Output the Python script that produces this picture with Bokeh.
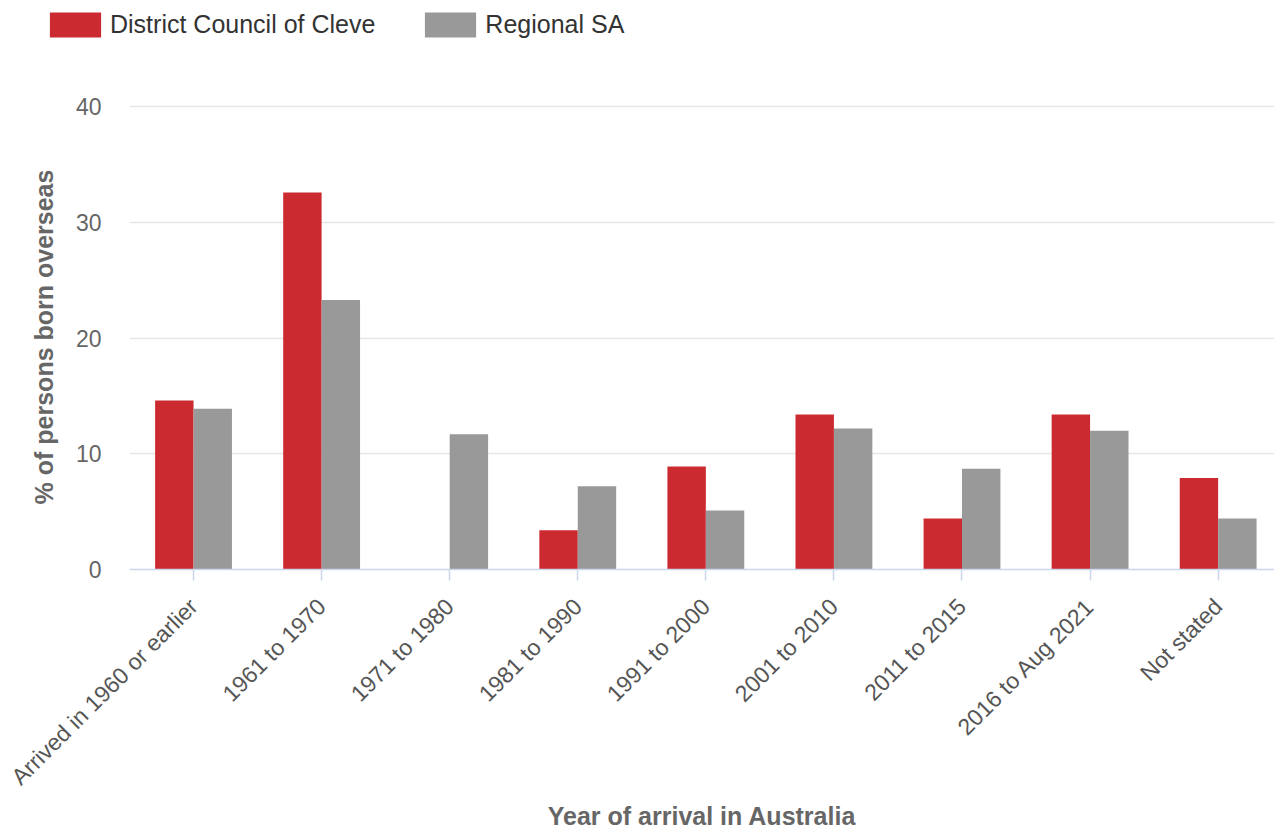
from math import pi
from bokeh.plotting import figure
from bokeh.layouts import column
from bokeh.models import Range1d, FixedTicker, Legend, LegendItem, ColumnDataSource
from bokeh.transform import dodge
from bokeh.embed import file_html
from bokeh.resources import INLINE

categories = [
    "Arrived in 1960 or earlier",
    "1961 to 1970",
    "1971 to 1980",
    "1981 to 1990",
    "1991 to 2000",
    "2001 to 2010",
    "2011 to 2015",
    "2016 to Aug 2021",
    "Not stated",
]
cleve = [14.6, 32.6, 0.0, 3.4, 8.9, 13.4, 4.4, 13.4, 7.9]
regional = [13.9, 23.3, 11.7, 7.2, 5.1, 12.2, 8.7, 12.0, 4.4]
y_ticks = [0, 10, 20, 30, 40]
series_names = ["District Council of Cleve", "Regional SA"]

RED = "#cb2b30"
GREY = "#999999"
FONT = "Liberation Sans"

idx = list(range(len(categories)))
src = ColumnDataSource(dict(idx=idx, cleve=cleve, regional=regional))

TOP_H = 80  # height of the legend strip

# ---- legend strip (top) ----
lf = figure(
    width=1274, height=TOP_H,
    output_backend="svg", toolbar_location=None,
    x_axis_location=None, y_axis_location=None,
    x_range=Range1d(100, 101), y_range=Range1d(100, 101),
    min_border_left=0, min_border_right=0, min_border_top=0, min_border_bottom=0,
    frame_align=False,
)
lf.grid.visible = False
lf.outline_line_color = None
lf.background_fill_color = "white"
lf.border_fill_color = "white"
# series glyphs used only as legend keys (the strip's ranges keep the bars out of view)
l1 = lf.vbar(x="idx", top="cleve", bottom=0, width=0.3, source=src,
             fill_color=RED, line_color=None)
l2 = lf.vbar(x="idx", top="regional", bottom=0, width=0.3, source=src,
             fill_color=GREY, line_color=None)
legend = Legend(
    items=[LegendItem(label=series_names[0], renderers=[l1], index=0),
           LegendItem(label=series_names[1], renderers=[l2], index=0)],
    location=(43, TOP_H - 40), orientation="horizontal",
    glyph_width=64, glyph_height=31, label_standoff=3, spacing=43,
    padding=0, margin=0, border_line_color=None, background_fill_alpha=0,
    label_text_font=FONT, label_text_font_size="25px", label_text_color="#333333",
)
lf.add_layout(legend)

# ---- main chart ----
p = figure(
    width=1274, height=832 - TOP_H,
    output_backend="svg", toolbar_location=None,
    x_range=Range1d(-0.5, 8.44), y_range=Range1d(0, 40.2),
    min_border_left=129, min_border_right=0,
    min_border_top=104 - TOP_H, min_border_bottom=263,
    frame_align=False,
)
p.outline_line_color = None
p.background_fill_color = "white"
p.border_fill_color = "white"

r1 = p.vbar(x=dodge("idx", -0.15, range=p.x_range), top="cleve", width=0.3,
            bottom=0, source=src, fill_color=RED, line_color=None)
r2 = p.vbar(x=dodge("idx", 0.15, range=p.x_range), top="regional", width=0.3,
            bottom=0, source=src, fill_color=GREY, line_color=None)

# x axis
xa = p.xaxis[0]
xa.ticker = FixedTicker(ticks=idx)
xa.major_label_overrides = {i: c for i, c in zip(idx, categories)}
xa.major_label_orientation = pi / 4
xa.major_label_text_font = FONT
xa.major_label_text_font_size = "23px"
xa.major_label_text_color = "#555555"
xa.major_label_standoff = 22
xa.axis_line_color = "#ccd6eb"
xa.axis_line_width = 1.5
xa.major_tick_line_color = "#ccd6eb"
xa.major_tick_line_width = 1.5
xa.major_tick_out = 11
xa.major_tick_in = 0
xa.minor_tick_line_color = None
xa.axis_label = "Year of arrival in Australia"
xa.axis_label_text_font = FONT
xa.axis_label_text_font_size = "25px"
xa.axis_label_text_font_style = "bold"
xa.axis_label_text_color = "#666666"
xa.axis_label_standoff = 0

# y axis
ya = p.yaxis[0]
ya.ticker = FixedTicker(ticks=y_ticks)
ya.major_label_text_font = FONT
ya.major_label_text_font_size = "23px"
ya.major_label_text_color = "#666666"
ya.major_label_standoff = 22
ya.axis_line_color = None
ya.major_tick_line_color = None
ya.minor_tick_line_color = None
ya.axis_label = "% of persons born overseas"
ya.axis_label_text_font = FONT
ya.axis_label_text_font_size = "25px"
ya.axis_label_text_font_style = "bold"
ya.axis_label_text_color = "#666666"
ya.axis_label_standoff = 15

p.xgrid.grid_line_color = None
p.ygrid.grid_line_color = "#e6e6e6"
p.ygrid.grid_line_width = 1.5
p.ygrid.ticker = FixedTicker(ticks=y_ticks)

layout = column(lf, p, spacing=0)

open("out.html", "w").write(file_html(layout, INLINE))
